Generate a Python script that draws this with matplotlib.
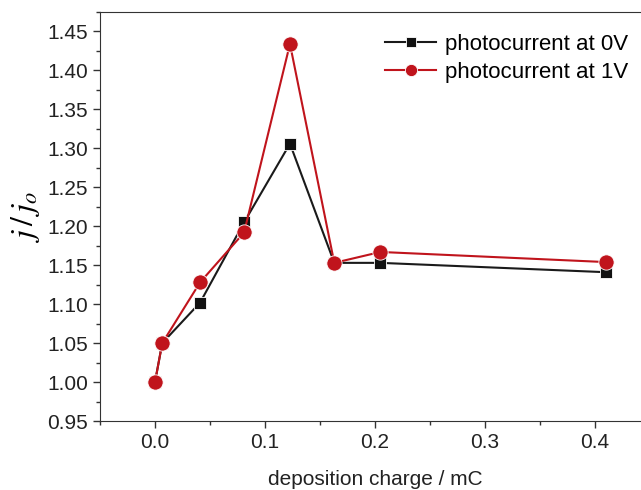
import matplotlib
matplotlib.use("Agg")
import matplotlib.pyplot as plt
from matplotlib.ticker import MultipleLocator

plt.rcParams["font.family"] = ["Liberation Sans", "DejaVu Sans"]
plt.rcParams["mathtext.fontset"] = "stix"

charge = [0.0, 0.0066, 0.041, 0.081, 0.1227, 0.163, 0.205, 0.41]
j_0v = [1.000, 1.050, 1.102, 1.205, 1.306, 1.153, 1.153, 1.141]
j_1v = [1.000, 1.050, 1.128, 1.192, 1.434, 1.153, 1.167, 1.154]

red = "#c0141c"

fig = plt.figure(figsize=(6.41, 4.9), dpi=100)
ax = fig.add_axes([0.156, 0.1408, 0.858, 0.8347])

ax.plot(charge, j_0v, "-", color="#1a1a1a", lw=1.5, marker="s", ms=9,
        mfc="#111111", mec="white", mew=0.6, label="photocurrent at 0V", zorder=3)
ax.plot(charge, j_1v, "-", color=red, lw=1.5, marker="o", ms=11,
        mfc=red, mec="white", mew=0.6, label="photocurrent at 1V", zorder=4)

ax.set_xlim(-0.05, 0.45)
ax.set_ylim(0.95, 1.475)
ax.xaxis.set_major_locator(MultipleLocator(0.1))
ax.xaxis.set_minor_locator(MultipleLocator(0.05))
ax.yaxis.set_major_locator(MultipleLocator(0.05))
ax.yaxis.set_minor_locator(MultipleLocator(0.025))
ax.tick_params(which="both", direction="out", top=False, right=False,
               labelsize=15, labelcolor="#222222", color="#333333", width=1)
ax.tick_params(which="major", length=5)
ax.tick_params(which="minor", length=3)
for s in ax.spines.values():
    s.set_color("#333333")

ax.set_xlabel("deposition charge / mC", fontsize=15, labelpad=13, color="#222222")
ax.set_ylabel(r"$j\,/\,j_o$", fontsize=23, labelpad=4)

ax.legend(loc="upper left", bbox_to_anchor=(385 / 641, 1 - 34 / 490),
          bbox_transform=fig.transFigure, frameon=False, fontsize=16,
          markerscale=0.8, handlelength=2.3, handletextpad=0.4,
          labelspacing=0.3, borderpad=0, borderaxespad=0)

fig.savefig("out.png", dpi=100)
